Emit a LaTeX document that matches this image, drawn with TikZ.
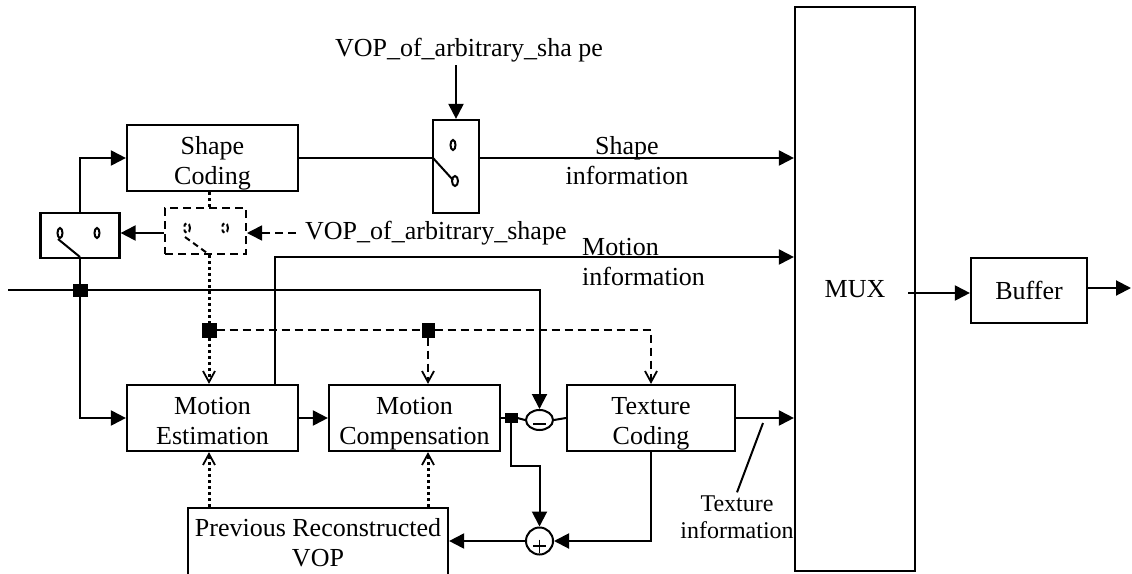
\documentclass[tikz,border=0pt]{standalone}
\usepackage{fontspec}
\setmainfont{Liberation Serif}
\usetikzlibrary{arrows.meta,shapes.geometric}
\newcommand\topst{\rule{0pt}{29pt}}
\newcommand\botst{\rule[-6pt]{0pt}{6pt}}
\begin{document}
\begin{tikzpicture}[x=1pt,y=-1pt,
  font=\fontsize{26pt}{30pt}\selectfont,
  blk/.style={draw, line width=2.2pt, inner sep=0pt, align=center},
  jun/.style={draw, fill=black, line width=1pt, inner sep=0pt},
  ln/.style={line width=2pt},
  arr/.style={ln, -{Triangle[length=15pt,width=15pt]}},
  openarr/.style={-{Straight Barb[length=11pt,width=12pt,line width=1.8pt]}},
  dashln/.style={line width=1.6pt, dash pattern=on 8pt off 5pt},
  dotln/.style={line width=3pt, dash pattern=on 3pt off 3pt},
  sw/.style={line width=2pt},
  lbl/.style={inner sep=0pt, align=center}]
\useasboundingbox (0,0) rectangle (1132,573);
\fill[white] (0,0) rectangle (1132,573);

% blocks
\node[blk, minimum width=171pt, minimum height=66pt] (shape) at (212.5,158) {\topst Shape\\Coding\botst};
\node[blk, minimum width=171pt, minimum height=66pt] (me) at (212.5,418) {\topst Motion\\Estimation\botst};
\node[blk, minimum width=171pt, minimum height=66pt] (mc) at (414.5,418) {\topst Motion\\Compensation\botst};
\node[blk, minimum width=168pt, minimum height=66pt] (tc) at (651,418) {\topst Texture\\Coding\botst};
\node[blk, minimum width=260pt, minimum height=72pt] (prev) at (318,544) {};
\node[lbl] (prevtxt) at (318,543) {Previous Reconstructed\\VOP};
\node[blk, minimum width=120pt, minimum height=564pt] (mux) at (855,289) {MUX};
\node[blk, minimum width=116pt, minimum height=65pt] (buf) at (1029,290.5) {Buffer};

% switches
\node[blk, minimum width=79pt, minimum height=45pt] (sw1) at (80,235.5) {};
\node[blk, dashln, line width=2pt, minimum width=81pt, minimum height=46pt] (sw2) at (205.5,231) {};
\node[blk, minimum width=46pt, minimum height=93pt] (sw3) at (456,166.5) {};
\draw[sw] (60,233) ellipse [x radius=2.5pt, y radius=5pt];
\draw[sw] (97,233) ellipse [x radius=2.5pt, y radius=5pt];
\draw[sw] (58,239) -- (80,257);
\draw[sw, dash pattern=on 4pt off 3pt] (187,228) ellipse [x radius=3pt, y radius=5pt];
\draw[sw, dash pattern=on 4pt off 3pt] (225,228) ellipse [x radius=3pt, y radius=5pt];
\draw[sw, dash pattern=on 6pt off 4pt] (185,237) -- (207,253);
\draw[sw] (453,145) ellipse [x radius=2.5pt, y radius=5pt];
\draw[sw] (455,181) ellipse [x radius=3pt, y radius=5pt];
\draw[sw] (433,158) -- (453,180);

% adders
\node[draw, ellipse, line width=2pt, minimum width=27pt, minimum height=20pt, inner sep=0pt] (minus) at (539.5,420) {};
\node[draw, circle, line width=2pt, minimum size=27pt, inner sep=0pt] (plus) at (539.5,541) {};
\draw[line width=1.4pt] (533,424) -- (546,424);
\draw[line width=1.4pt] (533,546) -- (546,546) (539.5,539.5) -- (539.5,552.5);

% junction squares
\node[jun, minimum width=14pt, minimum height=12pt] (j1) at (80,290) {};
\node[jun, minimum width=14pt, minimum height=14pt] (j2) at (209,330) {};
\node[jun, minimum width=12pt, minimum height=14pt] (j3) at (428,330) {};
\node[jun, minimum width=12pt, minimum height=9pt] (j4) at (511,418) {};

% labels
\node[lbl, anchor=west] (vop2) at (305,233) {VOP\_of\_arbitrary\_shape};
\node[lbl, inner sep=3pt] (vop1) at (469,50) {VOP\_of\_arbitrary\_sha pe};
\node[lbl] (shinfo) at (627,161) {Shape\\information};
\node[lbl, align=left, anchor=west] (mvinfo) at (582,262) {Motion\\information};
\node[lbl, font=\fontsize{24pt}{27pt}\selectfont, inner sep=3pt] (txinfo) at (737,517) {Texture\\information};

\coordinate (in) at (8,290);
\coordinate (mv) at (275,257);
\coordinate (k) at (539.5,466);
\coordinate (tl1) at (763,423);
\coordinate (mo) at (908,293);
\coordinate (out) at (1131,288);

% input and left switch
\draw[ln] (in) -- (j1.west);
\draw[arr] (j1.east) -| (minus.north);
\draw[ln] (sw1.south) -- (j1.north);
\draw[arr] (j1.south) |- (me.west);
\draw[arr] (sw1.north) |- (shape.west);
\draw[arr] (sw2.west |- 0,233) -- (sw1.east |- 0,233);
\draw[dashln, -{Triangle[length=15pt,width=15pt]}] ([xshift=-9pt]vop2.west) -- (sw2.east |- vop2.west);

% shape path
\draw[ln] (shape.east) -- (sw3.west |- shape.east);
\draw[arr] (sw3.east |- shape.east) -- (mux.west |- shape.east);
\draw[arr] (vop1.south -| sw3.north) -- (sw3.north);

% control lines
\draw[dotln] (shape.south -| j2) -- (sw2.north -| j2);
\draw[dotln] (sw2.south -| j2) -- (j2.north);
\draw[dotln, openarr] (j2.south) -- (me.north -| j2);
\draw[dashln] (j2.east) -- (j3.west);
\draw[dashln, openarr] (j3.east) -| (tc.north);
\draw[dashln, openarr] (j3.south) -- (mc.north -| j3);
\draw[dotln, openarr] (prev.north -| j2) -- (me.south -| j2);
\draw[dotln, openarr] (prev.north -| j3) -- (mc.south -| j3);

% motion information
\draw[arr] (me.north -| mv) |- (mux.west |- mv);

% coding loop
\draw[arr] (me.east) -- (mc.west);
\draw[ln] (mc.east) -- (j4.west);
\draw[ln] (j4.east) -- (minus.west);
\draw[ln] (minus.east) -- (tc.west);
\draw[arr] (j4.south) |- (k) -- (plus.north);
\draw[arr] (tc.south) |- (plus.east);
\draw[arr] (plus.west) -- (prev.east |- plus.west);
\draw[arr] (tc.east) -- (mux.west |- tc.east);
\draw[ln] (tl1) -- (txinfo.north);

% output
\draw[arr] (mo) -- (buf.west |- mo);
\draw[arr] (buf.east |- out) -- (out);
\end{tikzpicture}
\end{document}
